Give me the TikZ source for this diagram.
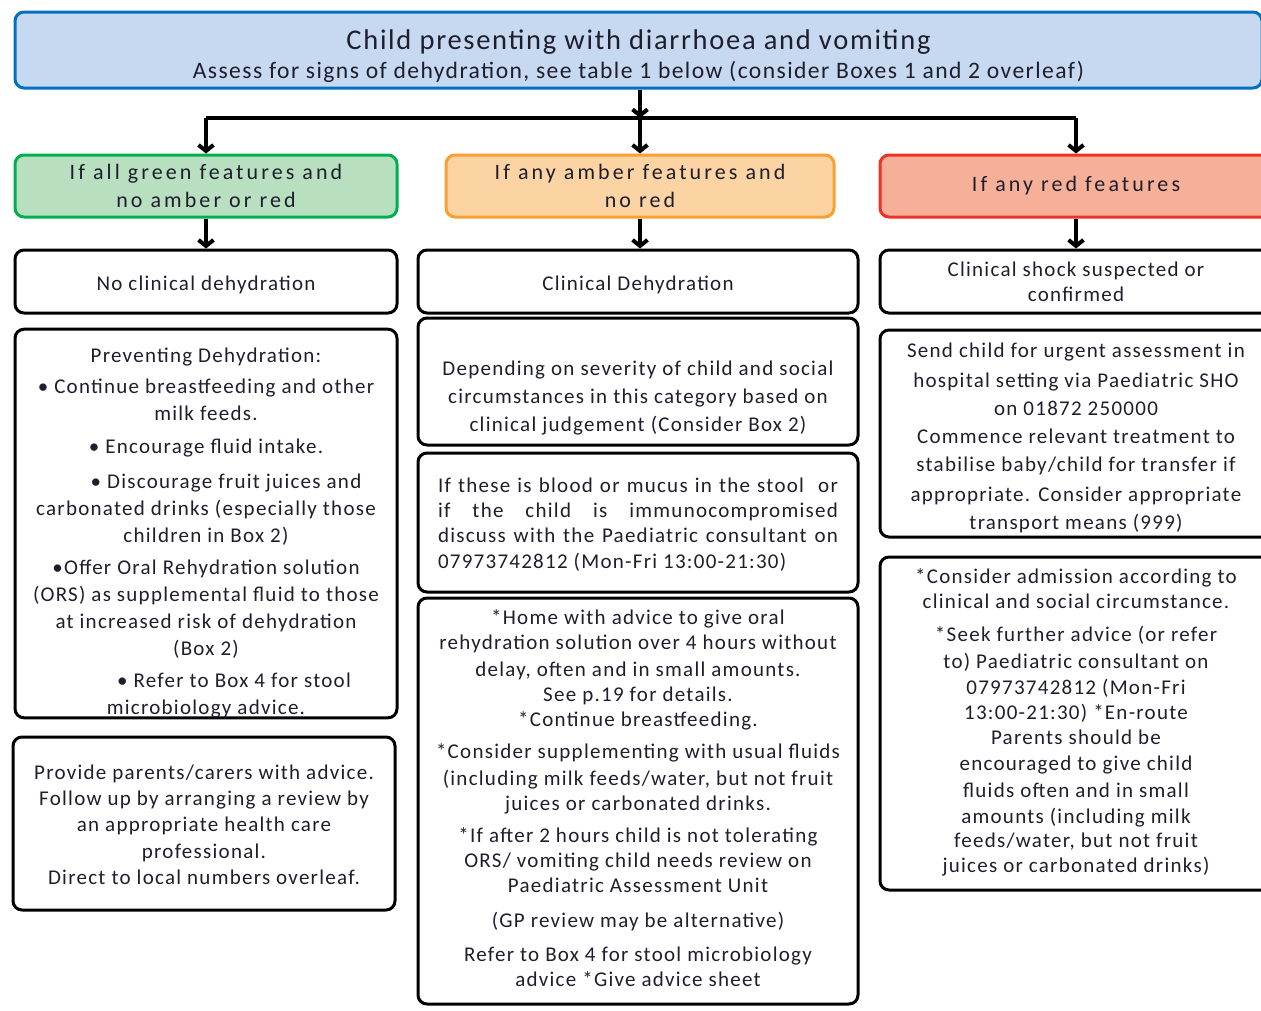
\documentclass[tikz,border=0pt]{standalone}
\usepackage{fontspec}
\setmainfont{Carlito}[LetterSpace=6]
\usetikzlibrary{arrows.meta}
\definecolor{ink}{RGB}{30,30,45}
\definecolor{bluefill}{RGB}{198,217,240}
\definecolor{blueline}{RGB}{0,112,192}
\definecolor{greenfill}{RGB}{184,223,192}
\definecolor{greenline}{RGB}{0,176,80}
\definecolor{amberfill}{RGB}{252,211,162}
\definecolor{amberline}{RGB}{248,160,50}
\definecolor{redfill}{RGB}{246,176,152}
\definecolor{redline}{RGB}{238,50,40}

\begin{document}
\begin{tikzpicture}[x=1pt, y=-1pt,
	box/.style = {
		shape=rectangle, rounded corners=9pt,
		draw=black, line width=3pt, align=center,
		inner sep=0pt, text=ink,
		font=\fontsize{21}{27}\selectfont},
	leftcol/.style = {box, minimum width=382pt},
	midcol/.style = {box, minimum width=440pt},
	rightcol/.style = {box, minimum width=392pt},
	light/.style = {font=\fontsize{22}{28}\selectfont\addfontfeature{LetterSpace=14}},
	arr/.style = {line width=4pt, -{Straight Barb[length=6pt,width=15pt]}}]

	\useasboundingbox (0,0) rectangle (1261,1010);
	\clip (0,0) rectangle (1261,1010);

	% assessment
	\node[box, draw=blueline, fill=bluefill, minimum width=1247pt, minimum height=76pt]
		(assess) at (638.5,50) {\rule{0pt}{33pt}{\fontsize{28.5}{30}\selectfont Child presenting with diarrhoea and vomiting}\\[2pt]
		{\fontsize{23.6}{26}\selectfont Assess for signs of dehydration, see table 1 below (consider Boxes 1 and 2 overleaf)}};
	\coordinate (split) at (640,118);

	% traffic light rows
	\node[leftcol, light, draw=greenline, fill=greenfill, minimum height=62pt] (green) at (206,186)
		{If all green features and\\no amber or red};
	\node[box, light, draw=amberline, fill=amberfill, minimum width=388pt, minimum height=62pt] (amber) at (640,186)
		{If any amber features and\\no red};
	\node[rightcol, light, draw=redline, fill=redfill, minimum height=62pt] (red) at (1076,186)
		{If any red features};

	\node[leftcol, minimum height=63pt] (nodehyd) at (206,281.5) {\rule{0pt}{22pt}No clinical dehydration};
	\node[midcol, minimum height=63pt] (dehyd) at (638,281.5) {\rule{0pt}{22pt}Clinical Dehydration};
	\node[rightcol, minimum height=63pt] (shock) at (1076,281.5) {Clinical shock suspected or\\[-2pt]confirmed};

	% green column
	\node[leftcol, minimum height=387pt] (prevent) at (206,523.5)
		{\rule{0pt}{33pt}Preventing Dehydration:\\[4pt]
		• Continue breastfeeding and other\\
		milk feeds.\\[6pt]
		• Encourage fluid intake.\\[8pt]
		\hspace*{40pt}• Discourage fruit juices and\\
		carbonated drinks (especially those\\
		children in Box 2)\\[5pt]
		•Offer Oral Rehydration solution\hspace*{40pt}\\
		(ORS) as supplemental fluid to those\\
		at increased risk of dehydration\\
		(Box 2)\\[5pt]
		\hspace*{56pt}• Refer to Box 4 for stool\\
		microbiology advice.};
	\node[leftcol, minimum height=173pt] (advice) at (204,823.5)
		{\rule{0pt}{18pt}Provide parents/carers with advice.\\[-1pt]
		Follow up by arranging a review by\\[-1pt]
		an appropriate health care\\
		professional.\\[-1pt]
		Direct to local numbers overleaf.};

	% amber column
	\node[midcol, minimum height=127pt] (severity) at (638,381.5)
		{\rule{0pt}{48pt}Depending on severity of child and social\\[1pt]
		circumstances in this category based on\\[1pt]
		clinical judgement (Consider Box 2)};
	\node[midcol, minimum height=139pt] (stool) at (638,522.5)
		{\rule{0pt}{18pt}\makebox[400pt][s]{If these is blood or mucus in the stool \ or}\\[-2pt]
		\makebox[400pt][s]{if the child is immunocompromised}\\[-2pt]
		\makebox[400pt][s]{discuss with the Paediatric consultant on}\\[-1pt]
		\makebox[400pt][l]{07973742812 (Mon-Fri 13:00-21:30)}};
	\node[midcol, minimum height=406pt] (home) at (638,801)
		{*Home with advice to give oral\\[-2pt]
		rehydration solution over 4 hours without\\
		delay, often and in small amounts.\\[-2pt]
		See p.19 for details.\\[-2pt]
		*Continue breastfeeding.\\[5pt]
		*Consider supplementing with usual fluids\\
		(including milk feeds/water, but not fruit\\[-2pt]
		juices or carbonated drinks.\\[5pt]
		*If after 2 hours child is not tolerating\\[-2pt]
		ORS/ vomiting child needs review on\\[-2pt]
		Paediatric Assessment Unit\\[8pt]
		(GP review may be alternative)\\[7pt]
		Refer to Box 4 for stool microbiology\\[-2pt]
		advice *Give advice sheet\rule[-5pt]{0pt}{1pt}};

	% red column
	\node[rightcol, minimum height=207pt] (hospital) at (1076,433.5)
		{\rule{0pt}{24pt}Send child for urgent assessment in\\[3pt]
		hospital setting via Paediatric SHO\\[1pt]
		on 01872 250000\\[1pt]
		Commence relevant treatment to\\[1pt]
		stabilise baby/child for transfer if\\[3pt]
		appropriate. Consider appropriate\\[1pt]
		transport means (999)};
	\node[rightcol, minimum height=333pt] (admission) at (1076,723.5)
		{*Consider admission according to\\[-2pt]
		clinical and social circumstance.\\[6pt]
		*Seek further advice (or refer\\
		to) Paediatric consultant on\\[-1pt]
		07973742812 (Mon-Fri\\[-2pt]
		13:00-21:30) *En-route\\[-2pt]
		Parents should be\\[-1pt]
		encouraged to give child\\
		fluids often and in small\\[-1pt]
		amounts (including milk\\[-3pt]
		feeds/water, but not fruit\\[-2pt]
		juices or carbonated drinks)\rule[-5pt]{0pt}{1pt}};

	% connectors
	\draw[arr] (assess.south -| split) -- (split);
	\draw[line width=4pt] (split -| green) -- (split -| red);
	\draw[arr] (split -| green) -- (green.north);
	\draw[arr] (split) -- (amber.north -| split);
	\draw[arr] (split -| red) -- (red.north);
	\draw[arr] (green.south) -- (nodehyd.north);
	\draw[arr] (amber.south -| split) -- (dehyd.north -| split);
	\draw[arr] (red.south) -- (shock.north);
\end{tikzpicture}
\end{document}
